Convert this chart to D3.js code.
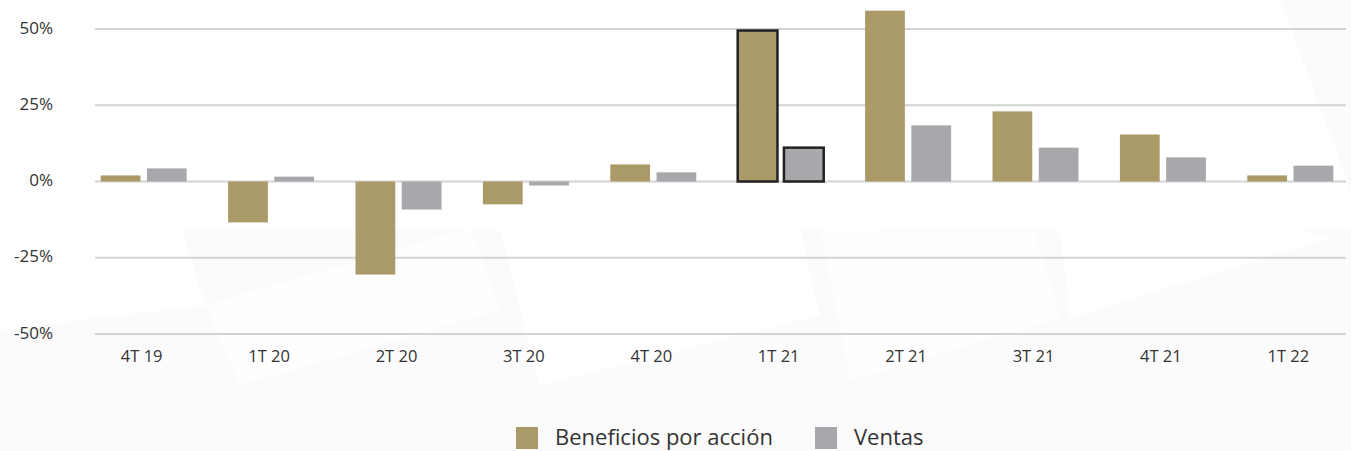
<!DOCTYPE html>
<html>
<head>
<meta charset="utf-8">
<script src="https://cdn.jsdelivr.net/npm/d3@7"></script>
<style>
  body { margin: 0; background: #fff; }
  svg { display: block; font-family: "Open Sans", "Noto Sans", sans-serif; }
</style>
</head>
<body>
<div id="chart"></div>
<script>
const quarters = ["4T 19", "1T 20", "2T 20", "3T 20", "4T 20", "1T 21", "2T 21", "3T 21", "4T 21", "1T 22"];
const beneficios = [2.0, -13.4, -30.5, -7.5, 5.6, 49.5, 56.0, 23.0, 15.4, 2.0];
const ventas = [4.3, 1.6, -9.2, -1.3, 3.0, 11.1, 18.4, 11.1, 7.9, 5.2];
const yTicks = [-50, -25, 0, 25, 50];
const highlighted = ["1T 21"];

const seriesNames = ["Beneficios por acción", "Ventas"];
const colors = ["#a99a68", "#a7a8ab"];

const width = 1351, height = 451;

const svg = d3.select("#chart")
              .append("svg")
              .attr("width", width)
              .attr("height", height);

// faint background shapes
const bg = svg.append("g");
bg.append("rect").attr("x", 0).attr("y", 0).attr("width", width).attr("height", height).attr("fill", "#fbfbfb");
bg.append("polygon").attr("points", "0,0 1280,0 1351,190 1351,230 0,230").attr("fill", "#ffffff");
bg.append("polygon").attr("points", "0,230 180,222 205,305 0,330").attr("fill", "#ffffff");
bg.append("polygon").attr("points", "205,305 470,228 500,310 240,385").attr("fill", "#fefefe");
bg.append("polygon").attr("points", "500,230 800,230 820,315 540,385").attr("fill", "#ffffff");
bg.append("polygon").attr("points", "820,230 1035,233 1060,318 850,380").attr("fill", "#fefefe");
bg.append("polygon").attr("points", "1060,230 1300,230 1330,238 1070,318").attr("fill", "#ffffff");

const x = d3.scaleBand()
            .domain(quarters)
            .range([80, 1354]);

const xInner = d3.scaleBand()
                 .domain(seriesNames)
                 .range([x.bandwidth() / 2 - 43, x.bandwidth() / 2 + 43])
                 .paddingInner(0.14);

const y = d3.scaleLinear()
            .domain([-50, 50])
            .range([334, 29]);

// gridlines
svg.append("g")
   .selectAll("line")
   .data(yTicks)
   .join("line")
   .attr("x1", 95)
   .attr("x2", 1346)
   .attr("y1", d => y(d))
   .attr("y2", d => y(d))
   .attr("stroke", "#d3d3d5")
   .attr("stroke-width", 2);

// y labels
svg.append("g")
   .selectAll("text")
   .data(yTicks)
   .join("text")
   .text(d => d + "%")
   .attr("x", 53)
   .attr("y", d => y(d))
   .attr("text-anchor", "end")
   .style("dominant-baseline", "middle")
   .style("font-size", "17px")
   .attr("fill", "#333");

// x labels
svg.append("g")
   .selectAll("text")
   .data(quarters)
   .join("text")
   .text(d => d)
   .attr("x", d => x(d) + x.bandwidth() / 2 - 2)
   .attr("y", 358)
   .attr("text-anchor", "middle")
   .style("dominant-baseline", "middle")
   .style("font-size", "16.5px")
   .attr("fill", "#333");

const rows = quarters.map((q, i) => ({ q, vals: [beneficios[i], ventas[i]] }));

const groups = svg.append("g")
                  .selectAll("g")
                  .data(rows)
                  .join("g")
                  .attr("transform", d => `translate(${x(d.q)}, 0)`);

groups.selectAll("rect")
      .data(d => d.vals.map((v, j) => ({ v, j, hl: highlighted.includes(d.q) })))
      .join("rect")
      .attr("x", d => xInner(seriesNames[d.j]))
      .attr("width", xInner.bandwidth())
      .attr("y", d => y(Math.max(0, d.v)))
      .attr("height", d => Math.abs(y(d.v) - y(0)))
      .attr("fill", d => colors[d.j])
      .attr("stroke", d => d.hl ? "#222" : "none")
      .attr("stroke-width", 2.5);

// legend
const legend = svg.append("g");
const legendX = [516, 815];
seriesNames.forEach((name, i) => {
    legend.append("rect")
          .attr("x", legendX[i])
          .attr("y", 427)
          .attr("width", 22)
          .attr("height", 22)
          .attr("fill", colors[i]);
    legend.append("text")
          .text(name)
          .attr("x", legendX[i] + 39)
          .attr("y", 439)
          .style("dominant-baseline", "middle")
          .style("font-size", "22px")
          .attr("fill", "#333");
});
</script>
</body>
</html>
